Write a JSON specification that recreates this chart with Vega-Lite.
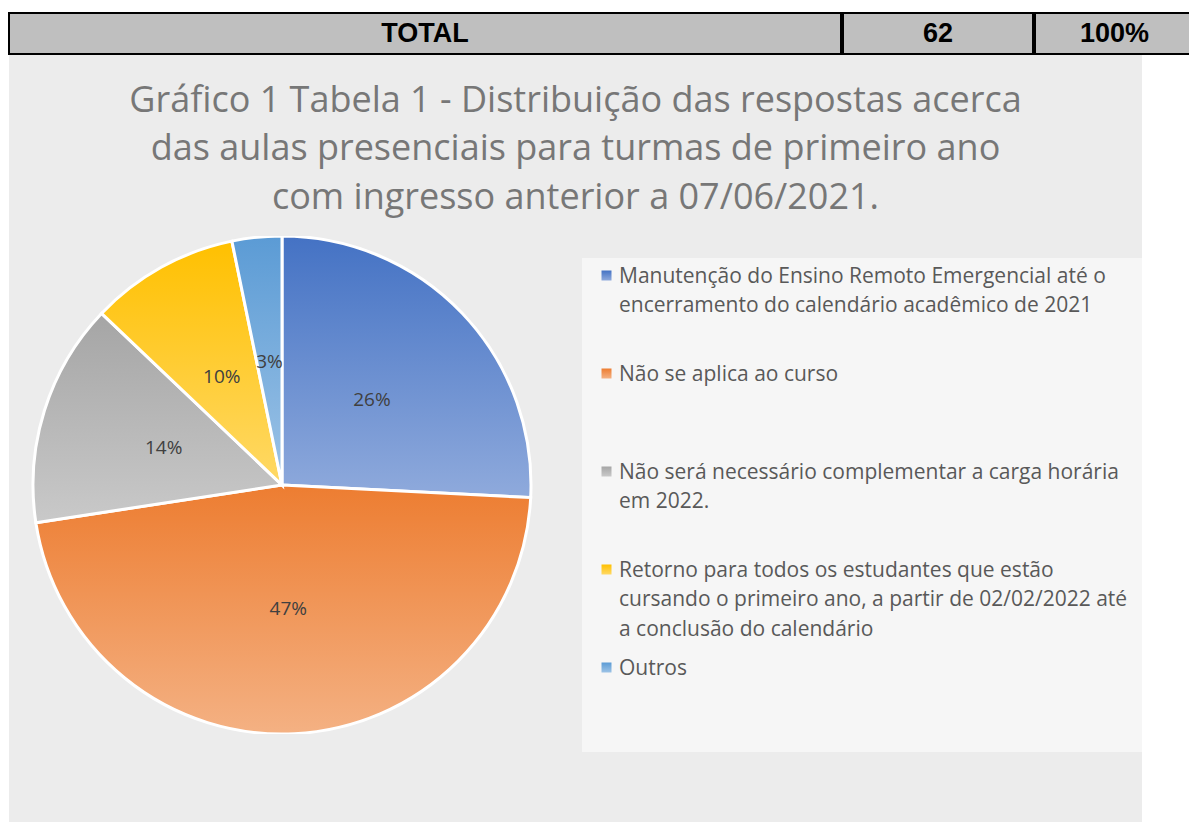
{
  "$schema": "https://vega.github.io/schema/vega-lite/v6.json",
  "padding": {"left": 8, "top": 12, "right": 0, "bottom": 0},
  "background": "white",
  "spacing": 0,
  "datasets": {
    "total": [{"rotulo": "TOTAL", "quantidade": 62, "percentual": "100%"}],
    "respostas": [
      {"resposta": "Manutenção do Ensino Remoto Emergencial até o encerramento do calendário acadêmico de 2021", "n": 16, "pct": "26%", "ordem": 1},
      {"resposta": "Não se aplica ao curso", "n": 29, "pct": "47%", "ordem": 2},
      {"resposta": "Não será necessário complementar a carga horária em 2022.", "n": 9, "pct": "14%", "ordem": 3},
      {"resposta": "Retorno para todos os estudantes que estão cursando o primeiro ano, a partir de 02/02/2022 até a conclusão do calendário", "n": 6, "pct": "10%", "ordem": 4},
      {"resposta": "Outros", "n": 2, "pct": "3%", "ordem": 5}
    ]
  },
  "vconcat": [
    {
      "spacing": 0,
      "hconcat": [
        {
          "width": 832, "height": 41,
          "view": {"fill": "#bfbfbf", "stroke": "black", "strokeWidth": 2},
          "data": {"name": "total"},
          "mark": {"type": "text", "font": "Liberation Sans", "fontWeight": "bold", "fontSize": 27, "color": "black", "baseline": "middle"},
          "encoding": {"text": {"field": "rotulo"}}
        },
        {
          "width": 190, "height": 41,
          "view": {"fill": "#bfbfbf", "stroke": "black", "strokeWidth": 2},
          "data": {"name": "total"},
          "mark": {"type": "text", "font": "Liberation Sans", "fontWeight": "bold", "fontSize": 27, "color": "black", "baseline": "middle"},
          "encoding": {"text": {"field": "quantidade"}}
        },
        {
          "width": 159, "height": 41,
          "view": {"fill": "#bfbfbf", "stroke": "black", "strokeWidth": 2},
          "data": {"name": "total"},
          "mark": {"type": "text", "font": "Liberation Sans", "fontWeight": "bold", "fontSize": 27, "color": "black", "baseline": "middle"},
          "encoding": {"text": {"field": "percentual"}}
        }
      ]
    },
    {
      "width": 1133, "height": 181,
      "view": {"fill": "#ececec", "stroke": null},
      "data": {"values": [{"t": 1}]},
      "mark": {
        "type": "text",
        "text": ["Gráfico 1 Tabela 1 - Distribuição das respostas acerca", "das  aulas presenciais para turmas de primeiro ano", "com ingresso anterior a 07/06/2021."],
        "font": "Open Sans", "fontSize": 36, "lineHeight": 48.5, "color": "#777777",
        "align": "center", "baseline": "middle", "dy": -45, "clip": true
      }
    },
    {
      "spacing": 0,
      "hconcat": [
        {
          "width": 546, "height": 498,
          "view": {"fill": "#ececec", "stroke": null},
          "data": {"name": "respostas"},
          "encoding": {
            "theta": {"field": "n", "type": "quantitative", "stack": true},
            "order": {"field": "ordem", "type": "quantitative"}
          },
          "layer": [
            {
              "mark": {"type": "arc", "stroke": "white", "strokeWidth": 3, "clip": true},
              "encoding": {
                "fill": {
                  "field": "resposta", "type": "nominal",
                  "scale": {
                    "domain": [
                      "Manutenção do Ensino Remoto Emergencial até o encerramento do calendário acadêmico de 2021",
                      "Não se aplica ao curso",
                      "Não será necessário complementar a carga horária em 2022.",
                      "Retorno para todos os estudantes que estão cursando o primeiro ano, a partir de 02/02/2022 até a conclusão do calendário",
                      "Outros"
                    ],
                    "range": [
                      {"expr": "{gradient: 'linear', x1: 0, y1: 0, x2: 0, y2: 1, stops: [{offset: 0, color: '#4472C4'}, {offset: 1, color: '#8FAADC'}]}"},
                      {"expr": "{gradient: 'linear', x1: 0, y1: 0, x2: 0, y2: 1, stops: [{offset: 0, color: '#ED7D31'}, {offset: 1, color: '#F4B183'}]}"},
                      {"expr": "{gradient: 'linear', x1: 0, y1: 0, x2: 0, y2: 1, stops: [{offset: 0, color: '#A5A5A5'}, {offset: 1, color: '#C9C9C9'}]}"},
                      {"expr": "{gradient: 'linear', x1: 0, y1: 0, x2: 0, y2: 1, stops: [{offset: 0, color: '#FFC000'}, {offset: 1, color: '#FFD966'}]}"},
                      {"expr": "{gradient: 'linear', x1: 0, y1: 0, x2: 0, y2: 1, stops: [{offset: 0, color: '#5B9BD5'}, {offset: 1, color: '#9DC3E6'}]}"}
                    ]
                  },
                  "legend": {
                    "title": null,
                    "orient": "none",
                    "legendX": 573,
                    "legendY": 245,
                    "fillColor": "#f6f6f6",
                    "padding": 14,
                    "symbolType": "M-1,-2.4H1V-0.4H-1Z",
                    "symbolSize": 100,
                    "symbolStrokeWidth": 0,
                    "symbolOpacity": 1,
                    "labelFont": "Open Sans",
                    "labelFontSize": 21,
                    "labelColor": "#595959",
                    "labelBaseline": "alphabetic",
                    "labelOffset": 2,
                    "labelLimit": 800,
                    "rowPadding": 17,
                    "labelExpr": "datum.value == 'Outros' ? ['Outros', ' ', ' '] : datum.value == 'Não se aplica ao curso' ? ['Não se aplica ao curso', ' ', ' '] : indexof(datum.value, 'Manutenção') == 0 ? ['Manutenção do Ensino Remoto Emergencial até o', 'encerramento do calendário acadêmico de 2021', ' '] : indexof(datum.value, 'Não será') == 0 ? ['Não será necessário complementar a carga horária', 'em 2022.', ' '] : ['Retorno para todos os estudantes que estão', 'cursando o primeiro ano, a partir de 02/02/2022 até', 'a conclusão do calendário']"
                  }
                }
              }
            },
            {
              "mark": {"type": "text", "radius": 124, "font": "Open Sans", "fontSize": 19, "color": "#404040", "clip": true},
              "encoding": {"text": {"field": "pct"}}
            }
          ]
        },
        {
          "width": 587, "height": 498,
          "view": {"fill": "#ececec", "stroke": null},
          "data": {"values": []},
          "mark": "point"
        }
      ]
    },
    {
      "width": 1133, "height": 100,
      "view": {"fill": "#ececec", "stroke": null},
      "data": {"values": []},
      "mark": "point"
    }
  ],
  "config": {
    "style": {"guide-label": {"lineHeight": 29.5}}
  }
}
